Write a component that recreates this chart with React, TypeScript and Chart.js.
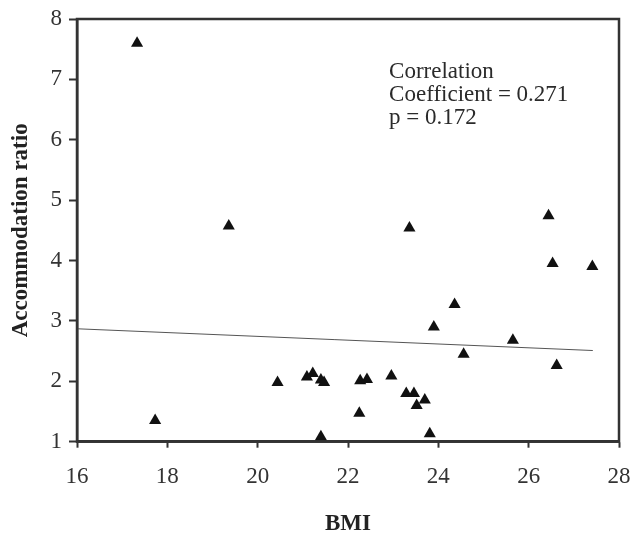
import React, { useEffect, useRef } from "react";
import { Chart, registerables } from "chart.js";

Chart.register(...registerables);

const bmi = [17.33, 17.73, 19.36, 20.44, 21.09, 21.22, 21.4, 21.47, 21.4, 22.25, 22.27, 22.42, 22.96, 23.29, 23.46, 23.52, 23.7, 23.81, 23.9, 24.36, 24.56, 23.36, 25.65, 26.44, 26.53, 26.62, 27.41];
const ratio = [7.6, 1.35, 4.57, 1.98, 2.07, 2.13, 2.02, 1.98, 1.08, 1.47, 2.01, 2.03, 2.09, 1.8, 1.8, 1.6, 1.69, 1.13, 2.9, 3.27, 2.45, 4.54, 2.68, 4.74, 3.95, 2.26, 3.9];
const fitX = [16, 27.42];
const fitY = [2.87, 2.51];
const annotationLines = ["Correlation", "Coefficient = 0.271", "p = 0.172"];
const annotationAnchor = { x: 22.91, y: 7.02 };
const xTitle = "BMI";
const yTitle = "Accommodation ratio";

const FONT = "'Liberation Serif', 'Times New Roman', serif";

export default function App() {
  const ref = useRef<HTMLCanvasElement>(null);
  useEffect(() => {
    document.body.style.margin = "0";
    const canvas = ref.current!;
    const frame = {
      id: "frame",
      afterDatasetsDraw(chart: any) {
        const { ctx, chartArea: a } = chart;
        ctx.save();
        ctx.strokeStyle = "#333";
        ctx.lineWidth = 2.5;
        ctx.strokeRect(a.left, a.top, a.right - a.left, a.bottom - a.top);
        ctx.restore();
      },
    };
    const annot = {
      id: "annot",
      afterDraw(chart: any) {
        const { ctx } = chart;
        const xs = chart.scales.x;
        const ys = chart.scales.y;
        const px = xs.getPixelForValue(annotationAnchor.x);
        const py = ys.getPixelForValue(annotationAnchor.y);
        ctx.save();
        ctx.fillStyle = "#2a2a2a";
        ctx.font = `23px ${FONT}`;
        ctx.textBaseline = "alphabetic";
        ctx.textAlign = "left";
        annotationLines.forEach((t, i) => ctx.fillText(t, px, py + i * 23));
        ctx.restore();
      },
    };
    const chart = new Chart(canvas, {
      type: "scatter",
      data: {
        datasets: [
          {
            type: "line",
            data: fitX.map((x, i) => ({ x, y: fitY[i] })),
            borderColor: "#555",
            borderWidth: 1,
            pointRadius: 0,
            fill: false,
          } as any,
          {
            data: bmi.map((x, i) => ({ x, y: ratio[i] })),
            pointStyle: "triangle",
            pointRadius: 7,
            backgroundColor: "#111",
            borderColor: "#111",
            borderWidth: 0,
          },
        ],
      },
      options: {
        animation: false,
        responsive: false,
        layout: { padding: { top: 19, right: 13, left: 0, bottom: 0 } },
        plugins: { legend: { display: false }, tooltip: { enabled: false } },
        scales: {
          x: {
            type: "linear",
            min: 16,
            max: 28,
            ticks: { stepSize: 2, color: "#333", font: { family: FONT, size: 23 }, padding: 15 },
            grid: { drawOnChartArea: false, drawTicks: true, tickLength: 6, tickColor: "#333", tickWidth: 2 },
            border: { color: "#333", width: 2.5 },
            title: { display: true, text: xTitle, color: "#222", font: { family: FONT, size: 23, weight: "bold" }, padding: { top: 0, bottom: 0 } },
            afterFit(scale: any) {
              scale.height = 538 - 441.7;
              scale.paddingRight = 0;
              scale.paddingLeft = 0;
            },
          },
          y: {
            type: "linear",
            min: 1,
            max: 8,
            ticks: { stepSize: 1, color: "#333", font: { family: FONT, size: 23 }, padding: 7 },
            grid: { drawOnChartArea: false, drawTicks: true, tickLength: 8, tickColor: "#333", tickWidth: 2 },
            border: { color: "#333", width: 2.5 },
            title: { display: true, text: yTitle, color: "#222", font: { family: FONT, size: 23, weight: "bold" }, padding: { top: 7, bottom: 0 } },
            afterFit(scale: any) {
              scale.width = 77;
              scale.paddingTop = 0;
              scale.paddingBottom = 0;
            },
          },
        },
      },
      plugins: [frame, annot],
    });
    return () => chart.destroy();
  }, []);
  return <canvas ref={ref} width={632} height={538} style={{ display: "block" }} />;
}
